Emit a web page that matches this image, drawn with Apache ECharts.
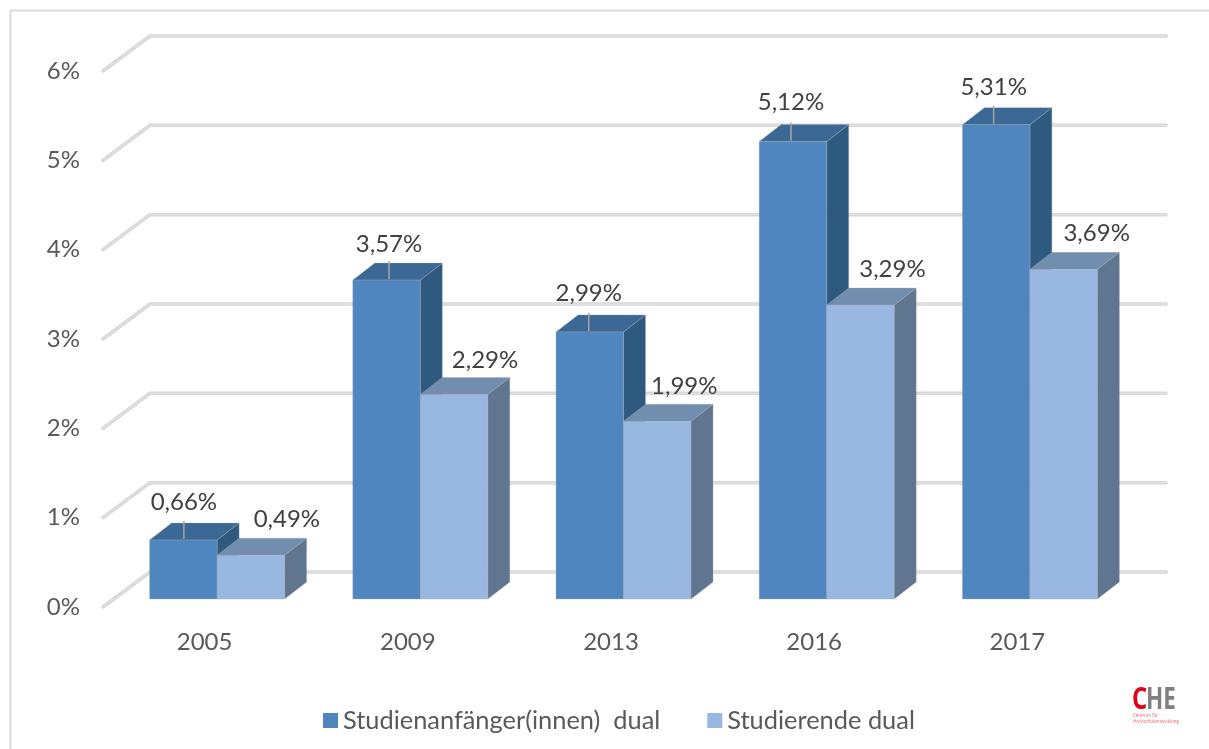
<!DOCTYPE html>
<html>
<head>
<meta charset="utf-8">
<title>Duales Studium</title>
<script src="https://cdn.jsdelivr.net/npm/echarts@6/dist/echarts.min.js"></script>
<style>
  html, body { margin: 0; padding: 0; background: #fff; }
  #chart { width: 1209px; height: 749px; }
</style>
</head>
<body>
<div id="chart"></div>
<script>
const years = ['2005', '2009', '2013', '2016', '2017']
const anfaenger = [0.66, 3.57, 2.99, 5.12, 5.31]
const studierende = [0.49, 2.29, 1.99, 3.29, 3.69]
const yTicks = [0, 1, 2, 3, 4, 5, 6]

const font = 'Lato'
const textColor = '#595959'
const labelColor = '#404040'

// pseudo 3D: the axes sit on the front edge of the floor, walls and bars are pushed back
const wall = { dx: 47, dy: -35 }
const plane = { dx: 12.5, dy: -8 }
const depth = { dx: 22, dy: -17 }
const barWidth = 67.5

// label offsets from the bar's front top edge centre, placed by hand per bar
const nudgeA = { dx: [0.5, 2.5, -1, -2, -2.5], dy: [-38, -36, -39, -39, -37] }
const nudgeB = { dx: [36, 31, 27, 32, 33], dy: [-36, -34, -35, -36, -36] }

const fmt = v => v.toFixed(2).replace('.', ',') + '%'

const gridRender = (params, api) => {
  const y = api.coord([0, api.value(1)])[1]
  const sys = params.coordSys
  const pts = [
    [sys.x, y],
    [sys.x + wall.dx, y + wall.dy],
    [sys.x + sys.width + wall.dx, y + wall.dy]
  ]
  return {
    type: 'group',
    children: [
      { type: 'polyline', shape: { points: pts }, style: { fill: 'none', stroke: '#d4d4d4', lineWidth: 3.5, lineCap: 'round' } },
      { type: 'polyline', shape: { points: pts }, style: { fill: 'none', stroke: '#e9e9e9', lineWidth: 1 } }
    ]
  }
}

const barRender = (side, colors, nudge, leader) => (params, api) => {
  const val = api.value(1)
  const base = api.coord([api.value(0), 0])
  const top = api.coord([api.value(0), val])
  const x0 = base[0] + plane.dx + (side < 0 ? -barWidth : 0)
  const x1 = x0 + barWidth
  const yb = base[1] + plane.dy
  const yt = top[1] + plane.dy
  const edge = 'rgba(170,170,170,0.35)'
  const poly = (points, fill) => ({
    type: 'polygon',
    shape: { points },
    style: { fill, stroke: edge, lineWidth: 1 }
  })
  const children = [
    poly([[x1, yb], [x1 + depth.dx, yb + depth.dy], [x1 + depth.dx, yt + depth.dy], [x1, yt]], colors.side),
    poly([[x0, yt], [x0 + depth.dx, yt + depth.dy], [x1 + depth.dx, yt + depth.dy], [x1, yt]], colors.top),
    poly([[x0, yb], [x0, yt], [x1, yt], [x1, yb]], colors.front)
  ]
  const lx = (x0 + x1) / 2 + nudge.dx[params.dataIndex]
  if (leader) {
    children.push({
      type: 'line',
      shape: { x1: lx, y1: yt - 1, x2: lx, y2: yt - 19 },
      style: { stroke: '#a6a6a6', lineWidth: 1.5 }
    })
  }
  children.push({
    type: 'text',
    style: {
      text: fmt(val),
      x: lx,
      y: yt + nudge.dy[params.dataIndex],
      align: 'center',
      verticalAlign: 'middle',
      fill: labelColor,
      font: '24px ' + font
    }
  })
  return { type: 'group', children }
}

const chart = echarts.init(document.getElementById('chart'))

chart.setOption({
  animation: false,
  backgroundColor: '#fff',
  textStyle: { fontFamily: font },
  grid: { left: 103, top: 71, width: 1016, height: 536 },
  legend: {
    data: ['Studienanfänger(innen)  dual', 'Studierende dual'],
    left: 318,
    top: 703,
    icon: 'rect',
    itemWidth: 15,
    itemHeight: 15,
    itemGap: 47,
    textStyle: { color: textColor, fontSize: 25.4, fontFamily: font }
  },
  xAxis: {
    type: 'category',
    data: years,
    axisLine: { show: false },
    axisTick: { show: false },
    axisLabel: { color: textColor, fontSize: 24, fontFamily: font, margin: 23 }
  },
  yAxis: {
    type: 'value',
    min: 0,
    max: 6,
    interval: 1,
    axisLine: { show: false },
    axisTick: { show: false },
    splitLine: { show: false },
    axisLabel: { formatter: '{value}%', color: textColor, fontSize: 24, fontFamily: font, margin: 23, padding: [8, 0, 0, 0] }
  },
  graphic: [
    { type: 'polyline', silent: true, shape: { points: [[10.5, 749], [10.5, 10.5], [1209, 10.5]] }, style: { fill: 'none', stroke: '#d9d9d9', lineWidth: 2 } },
    { type: 'text', silent: true, x: 1132, y: 685, scaleX: 0.8, style: { text: 'C', fill: '#e2001a', font: 'bold 30px "Open Sans"' } },
    { type: 'text', silent: true, x: 1146, y: 685, scaleX: 0.75, style: { text: 'HE', fill: '#808080', font: 'bold 30px "Open Sans"' } },
    { type: 'text', silent: true, style: { text: 'Centrum für\nHochschulentwicklung', x: 1133, y: 713, fill: '#e8606e', font: '4.4px "Open Sans"', lineHeight: 6 } }
  ],
  series: [
    {
      type: 'custom',
      name: 'grid',
      silent: true,
      clip: false,
      z: 1,
      renderItem: gridRender,
      data: yTicks.map(t => [0, t])
    },
    {
      type: 'custom',
      name: 'Studienanfänger(innen)  dual',
      clip: false,
      z: 2,
      itemStyle: { color: '#4f86bf' },
      renderItem: barRender(-1, { front: '#4f86bf', top: '#3c6895', side: '#2f5a80' }, nudgeA, true),
      data: anfaenger.map((v, i) => [i, v])
    },
    {
      type: 'custom',
      name: 'Studierende dual',
      clip: false,
      z: 3,
      itemStyle: { color: '#98b8e1' },
      renderItem: barRender(1, { front: '#98b8e1', top: '#728eae', side: '#5f7590' }, nudgeB, false),
      data: studierende.map((v, i) => [i, v])
    }
  ]
})
</script>
</body>
</html>
